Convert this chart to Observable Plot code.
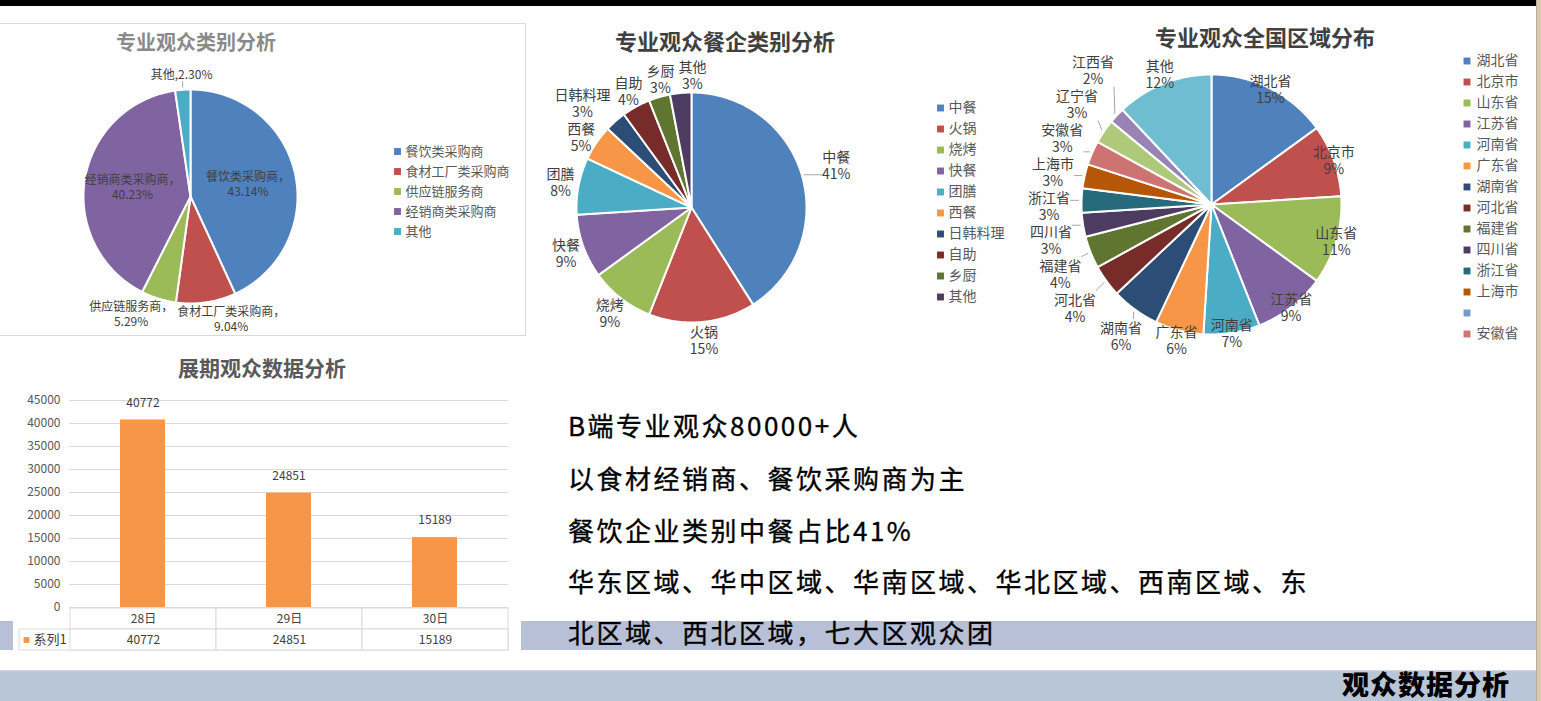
<!DOCTYPE html>
<html lang="zh-CN">
<head>
<meta charset="utf-8">
<title>观众数据分析</title>
<script src="https://cdn.jsdelivr.net/npm/d3@7"></script>
<script src="https://cdn.jsdelivr.net/npm/@observablehq/plot@0.6"></script>
<style>
html,body{margin:0;padding:0;background:#fff;}
#slide{position:relative;width:1541px;height:701px;overflow:hidden;background:#fff;font-family:"Noto Sans CJK SC","Noto Sans",sans-serif;}
.box{position:absolute;}
.t{position:absolute;white-space:nowrap;transform:translate(-50%,-50%);font-weight:bold;line-height:1;}
.note{position:absolute;left:568px;white-space:nowrap;font-size:26px;letter-spacing:2.5px;color:#000;line-height:36px;-webkit-text-stroke:0.35px #000;}
.foot{position:absolute;right:31px;top:683px;transform:translateY(-50%);font-size:27px;font-weight:900;letter-spacing:1px;color:#000;line-height:1;white-space:nowrap;}
</style>
</head>
<body>
<div id="slide">
  <div class="box" style="left:0;top:0;width:1536px;height:6px;background:#000"></div>
  <div class="box" style="left:1536px;top:0;width:1px;height:701px;background:#b8b0a0"></div>
  <div class="box" style="left:1537px;top:0;width:4px;height:701px;background:#dccbab"></div>
  <div class="box" style="left:-1px;top:23px;width:525px;height:311px;border:1px solid #d9d9d9"></div>
  <div class="box" style="left:0;top:621px;width:13px;height:29px;background:#b8c0d8"></div>
  <div class="box" style="left:521px;top:621px;width:1015px;height:29px;background:#b8c0d8"></div>
  <div class="box" style="left:0;top:670px;width:1536px;height:30px;background:#b9c6d8;border-top:1px solid #d3dbe6"></div>
  <div class="t" style="left:196px;top:42px;font-size:20px;color:#8a8a8a">专业观众类别分析</div>
  <div class="t" style="left:725px;top:40px;font-size:22px;color:#404040">专业观众餐企类别分析</div>
  <div class="t" style="left:1265px;top:36px;font-size:22px;color:#404040">专业观众全国区域分布</div>
  <div class="t" style="left:262px;top:367px;font-size:21px;color:#595959">展期观众数据分析</div>
</div>
<script>
const FONT = '"Noto Sans CJK SC","Noto Sans",sans-serif';

// ---- Chart 1: 专业观众类别分析 ----
const typeNames = ["餐饮类采购商", "食材工厂类采购商", "供应链服务商", "经销商类采购商", "其他"];
const typeShares = [43.14, 9.04, 5.29, 40.23, 2.30];
const typeColors = ["#4F81BD", "#C0504D", "#9BBB59", "#8064A2", "#4BACC6"];

// ---- Chart 2: 专业观众餐企类别分析 ----
const cuisineNames = ["中餐", "火锅", "烧烤", "快餐", "团膳", "西餐", "日韩料理", "自助", "乡厨", "其他"];
const cuisineShares = [41, 15, 9, 9, 8, 5, 3, 4, 3, 3];
const cuisineColors = ["#4F81BD", "#C0504D", "#9BBB59", "#8064A2", "#4BACC6", "#F79646", "#2C4D75", "#772C2A", "#5F7530", "#4D3B62"];

// ---- Chart 3: 专业观众全国区域分布 ----
const regionNames = ["湖北省", "北京市", "山东省", "江苏省", "河南省", "广东省", "湖南省", "河北省", "福建省", "四川省", "浙江省", "上海市", "", "安徽省", "辽宁省", "江西省", "其他"];
const regionShares = [15, 9, 11, 9, 7, 6, 6, 4, 4, 3, 3, 3, 0, 3, 3, 2, 12];
const regionColors = ["#4F81BD", "#C0504D", "#9BBB59", "#8064A2", "#4BACC6", "#F79646", "#2C4D75", "#772C2A", "#5F7530", "#4D3B62", "#276A7C", "#B65708", "#729ACA", "#CD7371", "#AFC97A", "#9983B5", "#6FBDD1"];
const regionLegendCount = 14;

// ---- Chart 4: 展期观众数据分析 ----
const days = ["28日", "29日", "30日"];
const visitors = [40772, 24851, 15189];
const seriesName = "系列1";
const yTicks = [0, 5000, 10000, 15000, 20000, 25000, 30000, 35000, 40000, 45000];

// ---- Slide text ----
const notes = [
  "B端专业观众80000+人",
  "以食材经销商、餐饮采购商为主",
  "餐饮企业类别中餐占比41%",
  "华东区域、华中区域、华南区域、华北区域、西南区域、东",
  "北区域、西北区域，七大区观众团"
];
const footerTitle = "观众数据分析";

const slide = document.getElementById("slide");
function mount(left, top, width, height, node) {
  const div = document.createElement("div");
  div.style.cssText = `position:absolute;left:${left}px;top:${top}px;width:${width}px;height:${height}px;`;
  div.appendChild(node);
  slide.appendChild(div);
}
const baseStyle = {background: "transparent", overflow: "visible", fontFamily: FONT};

function em(str) {
  let w = 0;
  for (const ch of str) {
    if (/[0-9]/.test(ch)) w += 0.55;
    else if (ch === "%") w += 0.85;
    else if (ch === "." || ch === ",") w += 0.3;
    else if (ch.charCodeAt(0) < 128) w += 0.6;
    else w += 1;
  }
  return w;
}

function slices(names, values) {
  const arcs = d3.pie().sort(null).value(d => d.value)(names.map((name, i) => ({name, value: values[i]})));
  return arcs.filter(a => a.data.value > 0).map(a => {
    const pts = [[0, 0]];
    const n = Math.max(4, Math.ceil((a.endAngle - a.startAngle) / 0.01));
    for (let k = 0; k <= n; k++) {
      const t = a.startAngle + (a.endAngle - a.startAngle) * k / n;
      pts.push([Math.sin(t), -Math.cos(t)]);
    }
    pts.push([0, 0]);
    return {
      type: "Feature",
      properties: {name: a.data.name, value: a.data.value, mid: (a.startAngle + a.endAngle) / 2},
      geometry: {type: "Polygon", coordinates: [pts]}
    };
  });
}

function layoutLabels(feats, R, fontSize, lineHeight, labelFn) {
  const L = feats.map(f => {
    const p = f.properties;
    const s = Math.sin(p.mid), c = Math.cos(p.mid);
    const info = labelFn(p, s, c);
    const w = Math.max(...info.lines.map(em)) * fontSize;
    const h = info.lines.length * lineHeight;
    return {...info, s, c, x: info.k * R * s, y: -info.k * R * c, w, h};
  });
  for (let it = 0; it < 300; it++) {
    let any = false;
    for (let i = 0; i < L.length; i++) for (let j = i + 1; j < L.length; j++) {
      const a = L[i], b = L[j];
      if (a.inside || b.inside) continue;
      const ox = (a.w + b.w) / 2 + 4 - Math.abs(a.x - b.x);
      const oy = (a.h + b.h) / 2 - Math.abs(a.y - b.y);
      if (ox <= 0.01 || oy <= 0.01) continue;
      any = true;
      const ms = a.s + b.s, mc = a.c + b.c;
      if (Math.abs(mc) > Math.abs(ms)) {
        const sg = a.x < b.x ? -1 : 1; a.x += sg * ox / 2; b.x -= sg * ox / 2;
      } else {
        const sg = a.y < b.y ? -1 : 1; a.y += sg * oy / 2; b.y -= sg * oy / 2;
      }
    }
    if (!any) break;
  }
  const leaders = L.filter(l => !l.inside && !l.edge).map(l => {
    const px = 1.02 * R * l.s, py = -1.02 * R * l.c;
    const qx = Math.max(l.x - l.w / 2, Math.min(px, l.x + l.w / 2));
    const qy = Math.max(l.y - l.h / 2, Math.min(py, l.y + l.h / 2));
    return {x1: px / R, y1: py / R, x2: qx / R, y2: qy / R, len: Math.hypot(qx - px, qy - py)};
  }).filter(d => d.len > 6);
  return {labels: L, leaders};
}

function pieChart(o) {
  const feats = slices(o.names, o.values);
  const {labels, leaders} = layoutLabels(feats, o.R, o.fontSize, o.lineHeight, o.labelFn);
  const marginLeft = o.cx - o.R - o.left, marginTop = o.cy - o.R - o.top;
  const plot = Plot.plot({
    width: o.width, height: o.height,
    marginLeft, marginTop,
    marginRight: o.width - marginLeft - 2 * o.R,
    marginBottom: o.height - marginTop - 2 * o.R,
    projection: {type: "identity", domain: {type: "FeatureCollection", features: feats}, clip: false},
    color: {domain: o.names, range: o.colors},
    style: baseStyle,
    marks: [
      Plot.geo(feats, {fill: d => d.properties.name, stroke: "white", strokeWidth: 2}),
      Plot.link(leaders, {x1: "x1", y1: "y1", x2: "x2", y2: "y2", stroke: "#A6A6A6", strokeWidth: 1}),
      Plot.text(labels, {
        x: d => d.x / o.R, y: d => d.y / o.R,
        text: d => d.lines.join("\n"),
        fontSize: o.fontSize, lineHeight: o.lineHeight / o.fontSize,
        fill: "#404040", fontFamily: FONT
      })
    ]
  });
  mount(o.left, o.top, o.width, o.height, plot);
}

function legendPlot(names, colors, o) {
  const plot = Plot.plot({
    width: o.width, height: names.length * o.rowH, margin: 0,
    y: {type: "band", domain: names, padding: 0, axis: null},
    color: {domain: names, range: colors},
    style: baseStyle,
    marks: [
      Plot.dot(names, {y: d => d, frameAnchor: "left", dx: o.swatchDx, symbol: "square", r: 3.9, fill: d => d}),
      Plot.text(names, {y: d => d, frameAnchor: "left", dx: o.textDx, textAnchor: "start", text: d => d, fontSize: o.fontSize, fill: "#595959", fontFamily: FONT})
    ]
  });
  mount(o.left, o.top, o.width, names.length * o.rowH, plot);
}

// Pie 1
pieChart({
  names: typeNames, values: typeShares, colors: typeColors,
  cx: 190, cy: 196, R: 107, left: 0, top: 50, width: 380, height: 290,
  fontSize: 12, lineHeight: 15,
  labelFn: (p, s, c) => {
    const inside = p.value > 30;
    const pct = p.value.toFixed(2) + "%";
    const lines = (inside || c < 0) ? [p.name + "，", pct] : [p.name + "," + pct];
    return {k: inside ? 0.55 : 1.15, inside, lines};
  }
});
legendPlot(typeNames, typeColors, {left: 390, top: 140, width: 135, rowH: 20.5, swatchDx: 7, textDx: 15, fontSize: 13});

// Pie 2
pieChart({
  names: cuisineNames, values: cuisineShares, colors: cuisineColors,
  cx: 691, cy: 207, R: 115, left: 530, top: 55, width: 380, height: 305,
  fontSize: 14, lineHeight: 17,
  labelFn: (p) => ({k: p.value > 30 ? 1.31 : 1.16, inside: false, lines: [p.name, p.value + "%"]})
});
legendPlot(cuisineNames, cuisineColors, {left: 930, top: 93, width: 75, rowH: 21.7, swatchDx: 10, textDx: 18, fontSize: 14});

// Pie 3
pieChart({
  names: regionNames, values: regionShares, colors: regionColors,
  cx: 1211, cy: 204, R: 130, left: 1010, top: 55, width: 430, height: 300,
  fontSize: 14, lineHeight: 17,
  labelFn: (p, s) => {
    const edge = s >= 0;
    return {k: edge ? 1.0 : (Math.abs(s) > 0.5 ? 1.25 : 1.08), inside: false, edge, lines: [p.name, p.value + "%"]};
  }
});
legendPlot(regionNames.slice(0, regionLegendCount), regionColors.slice(0, regionLegendCount),
  {left: 1455, top: 45, width: 80, rowH: 21.7, swatchDx: 11.5, textDx: 21, fontSize: 14});

// Bar chart
const barData = days.map((day, i) => ({day, value: visitors[i]}));
const xBand = {type: "band", domain: days, paddingInner: 0.69, paddingOuter: 0.345, axis: null};
const bar = Plot.plot({
  width: 520, height: 222,
  marginLeft: 69, marginRight: 12, marginTop: 15, marginBottom: 0,
  x: xBand,
  y: {domain: [0, 45000], label: null},
  style: baseStyle,
  marks: [
    Plot.ruleY(yTicks, {stroke: "#D9D9D9"}),
    Plot.barY(barData, {x: "day", y: "value", fill: "#F79646"}),
    Plot.text(barData, {x: "day", y: "value", text: d => String(d.value), dy: -17, fontSize: 12, fill: "#404040", fontFamily: FONT}),
    Plot.axisY({ticks: yTicks, tickSize: 0, tickPadding: 9, tickFormat: d => String(d), fontSize: 12, color: "#595959", label: null})
  ]
});
mount(0, 385, 520, 222, bar);

// Data table under the bars
const rows = ["cat", "val"];
const cells = [
  ...days.map(day => ({day, row: "cat", text: day})),
  ...days.map((day, i) => ({day, row: "val", text: String(visitors[i])}))
];
const table = Plot.plot({
  width: 520, height: 43,
  marginLeft: 19, marginRight: 12, marginTop: 0, marginBottom: 0,
  x: {type: "band", domain: days, range: [69, 508], padding: 0, axis: null},
  y: {type: "band", domain: rows, padding: 0, axis: null},
  style: baseStyle,
  marks: [
    Plot.cell(["val"], {y: d => d, stroke: "#D9D9D9", fill: "white"}),
    Plot.cell(cells, {x: "day", y: "row", stroke: "#D9D9D9", fill: "white"}),
    Plot.text(cells, {x: "day", y: "row", text: "text", fontSize: 12, fill: "#404040", fontFamily: FONT}),
    Plot.dot([seriesName], {y: () => "val", frameAnchor: "left", dx: 7, symbol: "square", r: 3.3, fill: "#F79646"}),
    Plot.text([seriesName], {y: () => "val", frameAnchor: "left", dx: 14, textAnchor: "start", text: d => d, fontSize: 13, fill: "#404040", fontFamily: FONT})
  ]
});
mount(0, 607, 520, 43, table);

// Slide text
const noteCenters = [425, 478, 530, 581, 632];
notes.forEach((t, i) => {
  const d = document.createElement("div");
  d.className = "note";
  d.style.top = (noteCenters[i] - 18) + "px";
  d.textContent = t;
  slide.appendChild(d);
});
const foot = document.createElement("div");
foot.className = "foot";
foot.textContent = footerTitle;
slide.appendChild(foot);
</script>
</body>
</html>
